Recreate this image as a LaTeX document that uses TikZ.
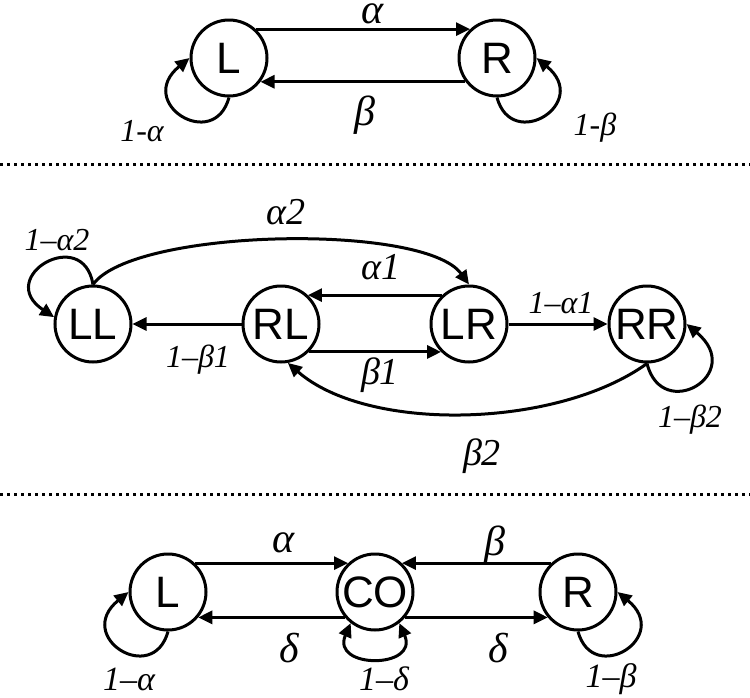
\documentclass[tikz,border=0pt]{standalone}
\usepackage{fontspec}
\setmainfont{Liberation Serif}
\setsansfont{Liberation Sans}
\usetikzlibrary{arrows.meta}
\tikzset{
  st/.style={draw, circle, line width=1.5pt, minimum size=38pt, inner sep=0pt,
             font=\sffamily\fontsize{22}{22}\selectfont},
  arr/.style={-{Triangle[length=7pt,width=6.5pt]}, line width=1.5pt},
  arrboth/.style={{Triangle[length=7pt,width=6.5pt]}-{Triangle[length=7pt,width=6.5pt]}, line width=1.5pt},
  lbl/.style={font=\itshape\fontsize{21}{21}\selectfont, inner sep=0pt},
  lblmid/.style={font=\itshape\fontsize{19}{19}\selectfont, inner sep=0pt},
  lblsmall/.style={font=\itshape\fontsize{16}{16}\selectfont, inner sep=0pt},
  dotline/.style={line width=1.5pt, dash pattern=on 1.5pt off 2pt},
}

\begin{document}
\begin{tikzpicture}[x=0.5pt, y=0.5pt]
  \path[use as bounding box, fill=white] (0,0) rectangle (750,-697);

  % Two states
  \node[st] (L) at (229,-58) {L};
  \node[st] (R) at (497,-58) {R};
  \draw[arr] (L.47) -- (R.133);
  \draw[arr] (R.-143) -- (L.-37);
  \draw[arr] (L.-90) .. controls +(-15,-55) and +(-55,-45) .. (L.180);
  \draw[arr] (R.-90) .. controls +(15,-55) and +(55,-45) .. (R.0);
  \node[lbl, text height=1ex, text depth=0pt] (la) at (373,-19) {α};
  \node[lbl] (lb) at (365,-115) {β};
  \node[lblsmall] (lla) at (142,-131) {1-α};
  \node[lblsmall] (llb) at (595,-128) {1-β};

  \draw[dotline] (0,-164) -- (750,-164);

  % Four states
  \node[st] (LL) at (93,-324) {LL};
  \node[st] (RL) at (281,-324) {RL};
  \node[st] (LR) at (469,-324) {LR};
  \node[st] (RR) at (647,-324) {RR};
  \draw[arr] (LR.133) -- (RL.47);
  \draw[arr] (RL.-45) -- (LR.-135);
  \draw[arr] (RL) -- (LL);
  \draw[arr] (LR) -- (RR);
  \draw[arr] (LL.north) .. controls +(40,56) and +(-45,62) .. (LR.north);
  \draw[arr] (LL.north) .. controls +(-10,60) and +(-60,40) .. (LL.170);
  \draw[arr] (RR.south) .. controls +(15,-60) and +(60,-50) .. (RR.0);
  \draw[arr] (RR.south) .. controls +(-90,-65) and +(80,-70) .. (RL.-80);
  \node[lblmid] (la2) at (286,-212) {α2};
  \node[lblmid] (la1) at (381,-267) {α1};
  \node[lblmid] (lb1) at (380,-375) {β1};
  \node[lbl, font=\itshape\fontsize{19}{19}\selectfont] (lb2) at (482,-456) {β2};
  \node[lblsmall] (lla2) at (57,-240) {1–α2};
  \node[lblsmall] (llb1) at (198,-360) {1–β1};
  \node[lblsmall] (lla1) at (561,-303) {1–α1};
  \node[lblsmall] (llb2) at (690,-420) {1–β2};

  \draw[dotline] (0,-494) -- (750,-494);

  % Three states
  \node[st] (Lb) at (168,-592) {L};
  \node[st] (CO) at (375,-592) {CO};
  \node[st] (Rb) at (578,-592) {R};
  \draw[arr] (Lb.47) -- (CO.133);
  \draw[arr] (Rb.133) -- (CO.47);
  \draw[arr] (CO.-140) -- (Lb.-40);
  \draw[arr] (CO.-40) -- (Rb.-140);
  \draw[arr] (Lb.-90) .. controls +(-15,-55) and +(-55,-45) .. (Lb.180);
  \draw[arr] (Rb.-90) .. controls +(15,-55) and +(55,-45) .. (Rb.0);
  \draw[arrboth] (CO.-128) .. controls +(-20,-46) and +(20,-46) .. (CO.-52);
  \node[lbl] (lab) at (284,-543) {α};
  \node[lbl] (lbb) at (495,-545) {β};
  \node[lbl] (ldl) at (289,-648) {δ};
  \node[lbl] (ldr) at (498,-648) {δ};
  \node[lblsmall, font=\itshape\fontsize{17}{17}\selectfont] (llab) at (129,-679) {1–α};
  \node[lblsmall, font=\itshape\fontsize{17}{17}\selectfont] (lld) at (384,-679) {1–δ};
  \node[lblsmall, font=\itshape\fontsize{17}{17}\selectfont] (llbb) at (611,-679) {1–β};
\end{tikzpicture}
\end{document}
